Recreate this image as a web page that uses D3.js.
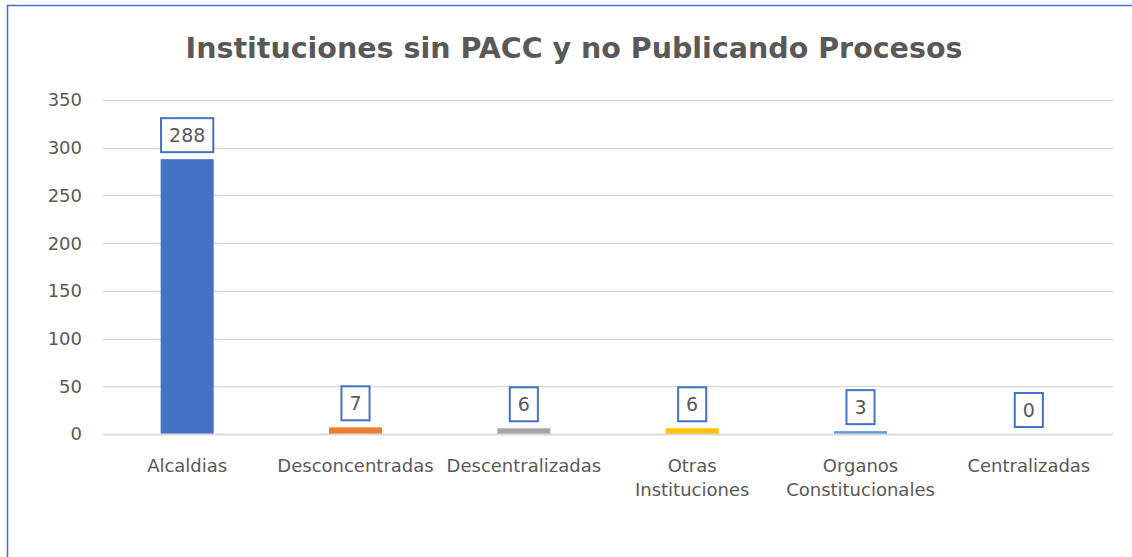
<!DOCTYPE html>
<html>
<head>
<meta charset="utf-8">
<script src="https://cdn.jsdelivr.net/npm/d3@7"></script>
<style>
  body { margin:0; background:#fff; }
  svg text { font-family: "DejaVu Sans", sans-serif; fill:#595959; }
</style>
</head>
<body>
<div id="chart"></div>
<script>
var categories = [["Alcaldias"], ["Desconcentradas"], ["Descentralizadas"], ["Otras", "Instituciones"], ["Organos", "Constitucionales"], ["Centralizadas"]];
var values = [288, 7, 6, 6, 3, 0];
var barColors = ["#4472C4", "#ED7D31", "#A5A5A5", "#FFC000", "#5B9BD5", "#70AD47"];
var yTicks = [0, 50, 100, 150, 200, 250, 300, 350];
var title = "Instituciones sin PACC y no Publicando Procesos";

var W = 1132, H = 557;
var margin = {top:100, right:19, bottom:123, left:103};
var width = W - margin.left - margin.right;
var height = H - margin.top - margin.bottom;

var svg = d3.select('#chart').append('svg')
    .attr('width', W).attr('height', H);

// outer chart border (runs off the right/bottom edge)
svg.append('rect')
    .attr('x', 7.5).attr('y', 5.5)
    .attr('width', W + 10).attr('height', H + 10)
    .attr('fill', 'none').attr('stroke', '#4472C4').attr('stroke-width', 1.5);

svg.append('text')
    .attr('x', 574).attr('y', 58)
    .attr('text-anchor', 'middle')
    .style('font-size', '28.5px').style('font-weight', 'bold')
    .text(title);

var g = svg.append('g').attr('transform', 'translate(' + margin.left + ',' + margin.top + ')');

var x = d3.scaleBand().domain(d3.range(values.length)).range([0, width]).paddingInner(0.685).paddingOuter(0.3425);
var y = d3.scaleLinear().domain([0, 350]).range([height, 0]);

// gridlines
g.append('g').selectAll('line').data(yTicks.slice(1)).enter().append('line')
    .attr('x1', 0).attr('x2', width)
    .attr('y1', function(d){ return Math.round(y(d)) + 0.5; })
    .attr('y2', function(d){ return Math.round(y(d)) + 0.5; })
    .attr('stroke', '#D9D9D9').attr('stroke-width', 1.5);

// y tick labels
g.append('g').selectAll('text').data(yTicks).enter().append('text')
    .attr('x', -21).attr('y', function(d){ return y(d); })
    .attr('dy', '0.36em').attr('text-anchor', 'end')
    .style('font-size', '18px')
    .text(function(d){ return d; });

// bars
g.append('g').selectAll('rect').data(values).enter().append('rect')
    .attr('x', function(d,i){ return x(i); })
    .attr('y', function(d){ return y(d); })
    .attr('width', x.bandwidth())
    .attr('height', function(d){ return height - y(d); })
    .attr('fill', function(d,i){ return barColors[i]; });

// baseline
g.append('line').attr('x1', 0).attr('x2', width)
    .attr('y1', height + 0.5).attr('y2', height + 0.5)
    .attr('stroke', '#D9D9D9').attr('stroke-width', 2);

// data labels in boxes
var lbl = g.append('g').selectAll('g').data(values).enter().append('g')
    .attr('transform', function(d,i){ return 'translate(' + (x(i) + x.bandwidth()/2) + ',' + (y(d) - 24) + ')'; });
lbl.append('text')
    .attr('text-anchor', 'middle').attr('dy', '0.36em')
    .style('font-size', '19px')
    .text(function(d){ return d; });
lbl.each(function(){
    var t = d3.select(this).select('text').node().getBBox();
    d3.select(this).insert('rect', 'text')
        .attr('x', t.x - 8).attr('y', -17)
        .attr('width', t.width + 16).attr('height', 34)
        .attr('fill', '#fff').attr('stroke', '#4472C4').attr('stroke-width', 2);
});

// category labels
var cat = g.append('g').selectAll('text').data(categories).enter().append('text')
    .attr('x', function(d,i){ return x(i) + x.bandwidth()/2; })
    .attr('y', height + 38)
    .attr('text-anchor', 'middle')
    .style('font-size', '18px');
cat.selectAll('tspan').data(function(d){ return d; }).enter().append('tspan')
    .attr('x', function(){ return d3.select(this.parentNode).attr('x'); })
    .attr('dy', function(d,i){ return i === 0 ? 0 : 24; })
    .text(function(d){ return d; });
</script>
</body>
</html>
